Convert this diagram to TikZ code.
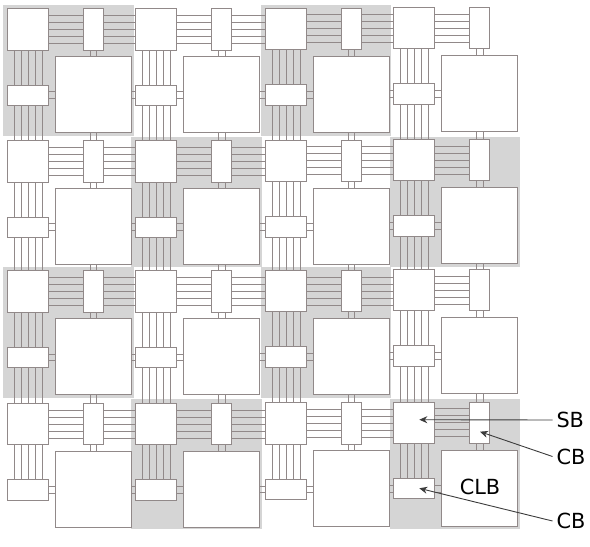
\documentclass[tikz,border=0pt]{standalone}
\usepackage{fontspec}
\setmainfont{DejaVu Sans}
\usetikzlibrary{arrows.meta}
\definecolor{tilegray}{HTML}{D5D5D5}
\definecolor{edgegray}{HTML}{918989}
\definecolor{pointergray}{HTML}{3C3C3C}
\tikzset{
  sbbox/.style={draw=edgegray,fill=white,line width=0.9pt,inner sep=0pt,outer sep=0pt,anchor=north west,minimum width=41.4pt,minimum height=41.3pt},
  cbv/.style={sbbox,minimum width=20.5pt},
  cbh/.style={sbbox,minimum height=20.5pt},
  clb/.style={sbbox,minimum width=76pt,minimum height=76pt},
  wire/.style={draw=edgegray,line width=0.9pt},
  pointerline/.style={draw=pointergray,line width=0.9pt,-{Stealth[length=8pt,width=7pt]}},
  lbl/.style={font=\fontsize{20.8pt}{23pt}\selectfont,text=black,inner sep=0pt,outer sep=0pt}
}
\begin{document}
\begin{tikzpicture}[x=1pt,y=-1pt]
\useasboundingbox (0,0) rectangle (590,547);
% shaded tiles
\fill[tilegray] (3,5) rectangle (133.5,136);
\fill[tilegray] (261,5) rectangle (391,136);
\fill[tilegray] (131,136.5) rectangle (261.5,267);
\fill[tilegray] (389.5,136.5) rectangle (520,267);
\fill[tilegray] (3,267) rectangle (133.5,398);
\fill[tilegray] (261,267) rectangle (391,398);
\fill[tilegray] (131,398.5) rectangle (261.5,529);
\fill[tilegray] (389.5,398.5) rectangle (520,529);
% blocks
\foreach \r/\y in {1/8.7,2/140.7,3/270.8,4/403.3}{
  \foreach \c/\x/\d in {1/7.3/0,2/135.5/0,3/265.3/-0.5,4/393.5/-1.3}{
    \node[sbbox] (s\r\c) at (\x,\y+\d) {};
    \node[cbv] (v\r\c) at (\x+75.8,\y+\d) {};
    \node[cbh] (h\r\c) at (\x,\y+\d+76.3) {};
    \node[clb] (l\r\c) at (\x+48,\y+\d+48) {};
  }
}
% connectors
\foreach \r in {1,2,3,4}{
  \foreach \c in {1,2,3,4}{
    \pgfmathtruncatemacro\nc{\c+1}
    \pgfmathtruncatemacro\nr{\r+1}
    \foreach \o in {-14,-7,0,7,14}{
      \draw[wire] ([yshift=\o pt]s\r\c.east) -- ([yshift=\o pt]v\r\c.west);
      \draw[wire] ([xshift=\o pt]s\r\c.south) -- ([xshift=\o pt]h\r\c.north);
      \ifnum\c<4
        \draw[wire] ([yshift=\o pt]v\r\c.east) -- ([yshift=\o pt]v\r\c.east -| s\r\nc.west);
      \fi
      \ifnum\r<4
        \draw[wire] ([xshift=\o pt]h\r\c.south) -- ([xshift=\o pt]s\nr\c.north);
      \fi
    }
    \foreach \o in {-3.4,3.4}{
      \draw[wire] ([yshift=\o pt]h\r\c.east) -- ([yshift=\o pt]h\r\c.east -| l\r\c.west);
      \draw[wire] ([xshift=\o pt]v\r\c.south) -- ([xshift=\o pt]v\r\c.south |- l\r\c.north);
      \ifnum\c<4
        \draw[wire] ([yshift=\o pt]h\r\nc.west -| l\r\c.east) -- ([yshift=\o pt]h\r\nc.west);
      \fi
      \ifnum\r<4
        \draw[wire] ([xshift=\o pt]v\nr\c.north |- l\r\c.south) -- ([xshift=\o pt]v\nr\c.north);
      \fi
    }
  }
}
% labels and pointers
\node[lbl] (clbtext) at (480,486.5) {CLB};
\node[lbl,anchor=west] (sbtext) at (556.5,420) {SB};
\node[lbl,anchor=west] (cbtexta) at (556.5,456.5) {CB};
\node[lbl,anchor=west] (cbtextb) at (556.5,521) {CB};
\coordinate (sbtip) at (419.3,419.7);
\coordinate (cbtipa) at (480,431.7);
\coordinate (cbtipb) at (419.3,488.3);
\draw[pointerline] ([xshift=-4pt]sbtext.west) -- (sbtip);
\draw[pointerline] ([xshift=-4pt]cbtexta.west) -- (cbtipa);
\draw[pointerline] ([xshift=-4pt]cbtextb.west) -- (cbtipb);
\end{tikzpicture}
\end{document}
